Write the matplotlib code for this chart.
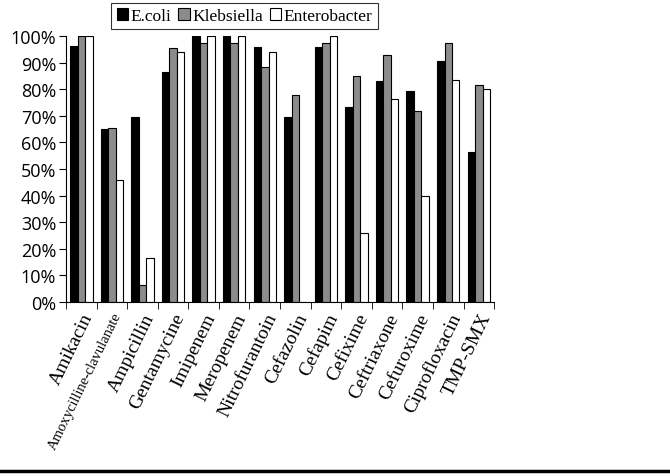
import numpy as np
import matplotlib.pyplot as plt
from matplotlib.lines import Line2D
from matplotlib.ticker import FixedLocator, PercentFormatter

# resistance rates per antibiotic
drugs = ['Amikacin', 'Amoxycilline-clavulanate', 'Ampicillin', 'Gentamycine',
         'Imipenem', 'Meropenem', 'Nitrofurantoin', 'Cefazolin', 'Cefapim',
         'Cefixime', 'Ceftriaxone', 'Cefuroxime', 'Ciprofloxacin', 'TMP-SMX']
ecoli = [96.5, 65, 69.5, 86.5, 100, 100, 96, 69.5, 96, 73.5, 83, 79.5, 90.5, 56.5]
klebs = [100, 65.5, 6.5, 95.5, 97.5, 97.5, 88.5, 78, 97.5, 85, 93, 72, 97.5, 81.5]
entero = [100, 46, 16.5, 94, 100, 100, 94, 0, 100, 26, 76.5, 40, 83.5, 80]

fig = plt.figure(figsize=(6.7, 4.77), dpi=100)
ax = fig.add_axes([0.0985, 0.365, 0.639, 0.557])

x = np.arange(len(drugs))
w = 0.245
ax.bar(x - w, ecoli, w, color='black', edgecolor='black', lw=0.8, label='E.coli')
ax.bar(x, klebs, w, color='#8c8c8c', edgecolor='black', lw=0.8, label='Klebsiella')
ax.bar(x + w, entero, w, color='white', edgecolor='black', lw=0.8, label='Enterobacter')

ax.set_xlim(-0.5, len(drugs) - 0.5)
ax.set_ylim(0, 100)
ax.set_yticks(np.arange(0, 101, 10))
ax.yaxis.set_major_formatter(PercentFormatter(decimals=0))
for s in ['top', 'right']:
    ax.spines[s].set_visible(False)

ax.set_xticks(x)
ax.xaxis.set_minor_locator(FixedLocator(np.arange(-0.5, len(drugs), 1)))
ax.tick_params(axis='x', which='major', length=0, pad=6)
ax.tick_params(axis='x', which='minor', length=5, direction='out')
ax.tick_params(axis='y', length=5, direction='out', labelsize=13, pad=2)
for lab in ax.get_yticklabels():
    lab.set_fontfamily('Open Sans')

ax.set_xticklabels(drugs, rotation=64, ha='right', rotation_mode='anchor',
                   fontfamily='Liberation Serif', fontsize=14)
ax.get_xticklabels()[1].set_fontsize(10.5)

leg = ax.legend(loc='lower left', bbox_to_anchor=(0.09, 1.0), ncol=3,
                frameon=True, fancybox=False, edgecolor='black',
                prop={'family': 'Liberation Serif', 'size': 12.5},
                handlelength=0.65, handleheight=0.65, handletextpad=0.15,
                columnspacing=0.4, borderpad=0.3, borderaxespad=0.4)
leg.get_frame().set_linewidth(0.8)

fig.add_artist(Line2D([0, 1], [0.01, 0.01], color='black', lw=2.5,
                      transform=fig.transFigure))

fig.savefig('out.png', dpi=100)
